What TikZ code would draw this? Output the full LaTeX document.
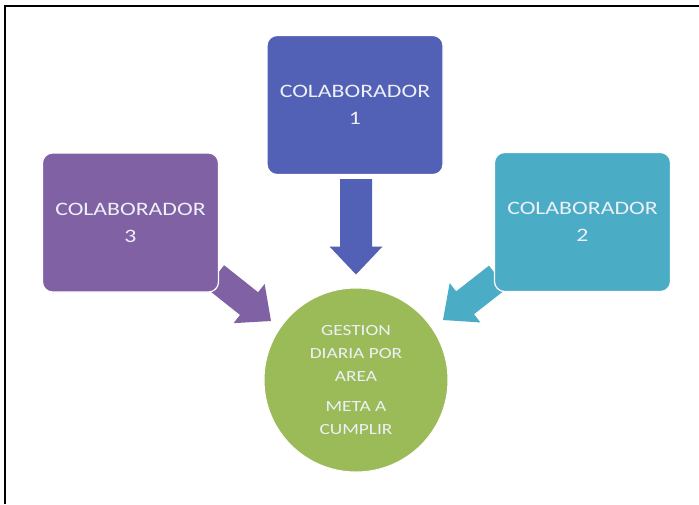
\documentclass[tikz,border=0pt]{standalone}
\usepackage{fontspec}
\usetikzlibrary{calc,backgrounds}
\newfontfamily\diagfont[FakeStretch=1.25]{Carlito}

\definecolor{boxblue}{RGB}{82,96,182}
\definecolor{boxpurple}{RGB}{128,98,164}
\definecolor{boxteal}{RGB}{75,172,198}
\definecolor{goalgreen}{RGB}{155,187,89}
\definecolor{labeltext}{RGB}{238,240,248}

\tikzset{
  collab/.style={rectangle, rounded corners=10pt, draw=white, line width=1.2pt,
    minimum width=176pt, minimum height=139pt, inner sep=0pt, align=center,
    text=labeltext, font=\diagfont\fontsize{19}{27}\selectfont},
  goal/.style={circle, draw=white, line width=1pt, fill=goalgreen,
    minimum size=184pt, inner sep=0pt, align=center,
    text=labeltext, font=\diagfont\fontsize{15.5}{23}\selectfont},
  frameline/.style={line width=1.6pt, black}
}

% block arrow from #1 to #2 in colour #3, shaft half-width #4, head half-width #5
\newcommand\blockarrow[5]{%
  \coordinate (hb) at ($(#2)!28pt!(#1)$);
  \fill[#3] ($(#1)!#4!90:(#2)$) -- ($(hb)!#4!90:(#2)$) -- ($(hb)!#5!90:(#2)$)
    -- (#2) -- ($(hb)!#5!-90:(#2)$) -- ($(hb)!#4!-90:(#2)$)
    -- ($(#1)!#4!-90:(#2)$) -- cycle;}

\begin{document}
\begin{tikzpicture}[x=1pt,y=-1pt]
  \useasboundingbox (0,0) rectangle (699,504);

  % page frame (top and left edges)
  \draw[frameline] (5,504) -- (5,6) -- (699,6);

  % contributors and the daily goal
  \node[collab, fill=boxblue]   (c1) at (355,105)   {COLABORADOR\\1};
  \node[collab, fill=boxpurple] (c3) at (130.5,222.5) {COLABORADOR\\3};
  \node[collab, fill=boxteal]   (c2) at (582.5,222) {COLABORADOR\\2};
  \node[goal] (g) at (356,380)
    {GESTION\\DIARIA POR\\AREA\\[7pt]META A\\CUMPLIR};

  % arrow ends
  \coordinate (a1s) at ($(c1.south)+(1,4)$);
  \coordinate (a1e) at ($(g.north)+(0,-13)$);
  \coordinate (a3s) at ($(c3.south east)+(-4,-16)$);
  \coordinate (a3e) at ($(g.center)+(-85,-59)$);
  \coordinate (a2s) at ($(c2.south west)+(4,-15)$);
  \coordinate (a2e) at ($(g.center)+(87,-60)$);

  \begin{scope}[on background layer]
    \fill[white] (0,0) rectangle (699,504);
    \blockarrow{a1s}{a1e}{boxblue}{16pt}{26.5pt}
    \blockarrow{a3s}{a3e}{boxpurple}{14.5pt}{25pt}
    \blockarrow{a2s}{a2e}{boxteal}{14.5pt}{25pt}
  \end{scope}
\end{tikzpicture}
\end{document}
